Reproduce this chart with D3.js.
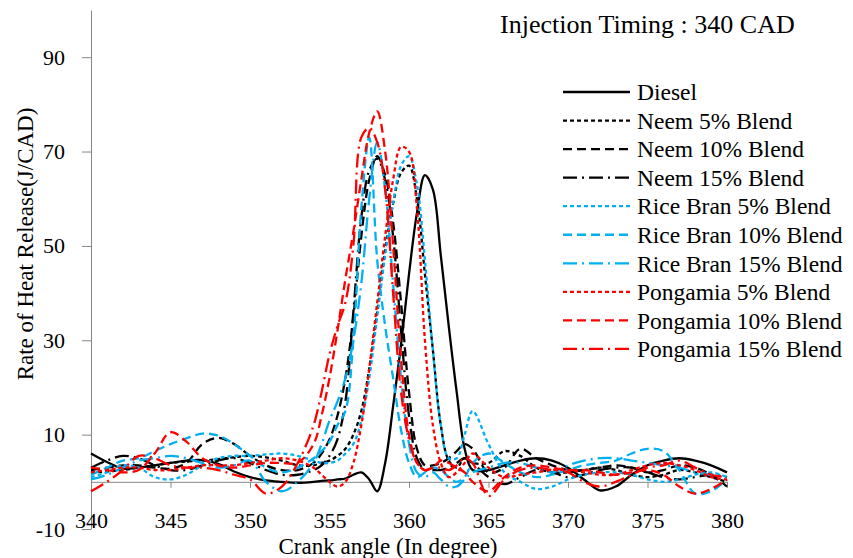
<!DOCTYPE html>
<html><head><meta charset="utf-8">
<script src="https://cdn.jsdelivr.net/npm/d3@7"></script>
<style>body{margin:0;background:#fff} svg{display:block;font-family:"Liberation Serif","Times New Roman",serif}</style>
</head><body><svg id="c" width="853" height="558"></svg>
<script>
// ---- data ----
const angles = [340,341,342,343,344,345,346,347,348,349,350,351,352,353,354,
  354.5,355,355.5,356,356.5,357,357.5,358,358.5,359,359.5,360,360.5,361,361.5,362,362.5,363,363.5,
  364,365,366,367,368,369,370,371,372,373,374,375,376,377,378,379,380];

const diesel = [6,4.2,2.8,3,3.5,4,4.5,4.6,3.8,2.2,1,0.3,0,-0.2,0,
  0.2,0.3,0.5,0.7,1.5,2,0.5,-2,4,16,29,44,57,65,62,48,33,19,7,
  2.5,2.5,3.5,4.5,5,4.5,3,0.5,-1.8,-1,1.5,3.5,4.5,5,4.5,3.5,2];
const neem5 = [2,2.2,2.5,3,3.5,4,4.3,4.5,4.8,5.2,5.5,5.2,4.5,3.5,3.5,
  4,4.5,5.5,7,10,15,24,36,49,59,65.5,67,60,44,28,12,4.5,3,5,
  4,4,6.5,5.5,3,2,2,2.5,3,2.5,1.5,1,1.5,2.5,2,1,0];
const neem10 = [2.5,3,3.5,3.5,3,2.8,4,8,9.3,8,5.5,3.5,2.5,2.5,4,
  6,9,14,22,35,52,64,69,65,55,38,19,7,3.5,3.5,4,5,6.5,8,
  7,2,3,7,5,3.5,2.5,2.5,3,3.5,3,2,2.5,3.5,3,1.5,-1];
const neem15 = [3,4.5,5.5,5,3.5,2.5,2.5,3.5,4.5,5,4,2.5,1.5,1.5,2.5,
  3.5,5.5,9,17,36,56,66,68.5,64,52,32,14,5,2.5,2.5,2.5,3,4,5,
  4,1,-0.5,1,2.5,2,1,1.5,2.5,3,3,2,1,0.5,1,1.5,1];
const rice5 = [1,2,3.5,3,1,0.5,1.5,3.5,5,5.5,5.5,5.8,6,5.5,4.5,
  4,4,4.5,6,8,13,22,35,48,59,67,69,63,47,28,12,5,5,10,
  15,8,2,0,-1.5,-1,0.5,1.5,2,2,1.5,0.5,0,0.5,1.5,2,1];
const rice10 = [1.5,3,4.5,5,6.5,8,9.2,10.2,9.8,8,5.5,3,2,3,5,
  6.5,8.5,12,15,30,58,73,47,33,22,11,4,1,2,3,2.5,1,0,1,
  4,6,4,2,1,1.5,2.5,3.5,4,4.5,6,7,6.5,2.5,-2.5,-2,0.5];
const rice15 = [0.5,1.5,3,4.5,5,5.5,5,4,3,3.5,4.5,0,-2,0,4,
  8,13,17,22,30,42,60,72,62,42,22,8,2,1,2,0.5,-1,-1,0.5,
  2,3,4,4,3,2,3.5,4.5,5,5,4.5,4,3.5,3,2,1.5,1];
const pong5 = [2,2.5,3,3,2.5,2.5,3,3.5,3.5,3.5,4,4.5,5,4.5,3,
  1.5,0,-1,0,4,12,24,38,52,64,71,70,58,30,12,4,1,2,4,
  6,3,1,1.5,2,2.5,2.5,2,1.5,1.5,2.5,3.5,4,3.5,2.5,1,0.5];
const pong10 = [3,2.5,2,2.5,6,10.5,8.5,5,3.5,3,3.5,4,4,4,8,
  14,22,32,43,53,64,74,78.5,70,50,26,10,4,2.5,3,4.5,4,3,2,
  0,-2,1,3,3.5,3,2.5,2.5,2,1.5,2,2.5,1.5,-1,-2.5,-1.5,0.5];
const pong15 = [-2,0,2.5,5.5,5,3.5,3,3,2.5,1.5,0.5,-2.5,-1,4,12,
  19,27,33,38,50,73,75,72,62,40,19,9,4,2.5,3,3,2.5,3.5,5,
  4,-3,0.5,2.5,3,2.5,2,0,-1,0,1.5,3,3.5,4.5,3,1.5,1];

const seriesNames = ["Diesel","Neem 5% Blend","Neem 10% Blend","Neem 15% Blend",
  "Rice Bran 5% Blend","Rice Bran 10% Blend","Rice Bran 15% Blend",
  "Pongamia 5% Blend","Pongamia 10% Blend","Pongamia 15% Blend"];
const seriesValues = [diesel,neem5,neem10,neem15,rice5,rice10,rice15,pong5,pong10,pong15];
const xTicks = [340,345,350,355,360,365,370,375,380];
const yTicks = [-10,10,30,50,70,90];
const titleText = "Injection Timing : 340 CAD";
const xTitle = "Crank angle (In degree)";
const yTitle = "Rate of Heat Release(J/CAD)";

// ---- styles ----
const BLACK="#000000", BLUE="#00B0F0", RED="#FF0000";
const SHORT="4,3", LONG="9,5", DASHDOT="14,5,2,5";
const styles = [
  {c:BLACK,d:null},{c:BLACK,d:SHORT},{c:BLACK,d:LONG},{c:BLACK,d:DASHDOT},
  {c:BLUE,d:SHORT},{c:BLUE,d:LONG},{c:BLUE,d:DASHDOT},
  {c:RED,d:SHORT},{c:RED,d:LONG},{c:RED,d:DASHDOT}];

const svg = d3.select("#c");
const x = d3.scaleLinear().domain([340,380]).range([91,727]);
const y = d3.scaleLinear().domain([-10,100]).range([529,10]);
const AX="#868686";
const FONT="Liberation Serif";

// y axis
const gy = svg.append("g").attr("transform","translate(91,0)")
  .call(d3.axisLeft(y).tickValues(yTicks).tickFormat(d=>String(d)).tickSize(9).tickSizeOuter(0).tickPadding(17));
gy.select(".domain").attr("stroke",AX);
gy.selectAll(".tick line").attr("stroke",AX);
gy.selectAll(".tick text").attr("font-family",FONT).attr("font-size",22).attr("fill","#000");

// x axis at y=0
const gx = svg.append("g").attr("transform",`translate(0,${y(0)})`)
  .call(d3.axisBottom(x).tickValues(xTicks).tickFormat(d=>String(d)).tickSize(6).tickSizeOuter(0));
gx.select(".domain").attr("stroke",AX);
gx.selectAll(".tick line").attr("stroke",AX);
gx.selectAll(".tick text").attr("font-family",FONT).attr("font-size",22)
  .attr("fill","#000").attr("y",31).attr("dy","0.71em");

// lines
const line = d3.line().x((d,i)=>x(angles[i])).y(d=>y(d)).curve(d3.curveCatmullRom.alpha(0.5));
svg.append("g").selectAll("path").data(d3.range(seriesValues.length)).join("path")
  .attr("d",i=>line(seriesValues[i]))
  .attr("fill","none").attr("stroke",i=>styles[i].c).attr("stroke-width",2.3)
  .attr("stroke-dasharray",i=>styles[i].d);

// legend
const lg = svg.append("g");
seriesNames.forEach((n,i)=>{
  const ly = 92 + i*28.55;
  lg.append("line").attr("x1",563).attr("x2",630).attr("y1",ly).attr("y2",ly)
    .attr("stroke",styles[i].c).attr("stroke-width",2.3).attr("stroke-dasharray",styles[i].d);
  lg.append("text").attr("x",637).attr("y",ly).attr("dy","0.35em")
    .attr("font-size",23.5).attr("fill","#000").text(n);
});

// titles
svg.append("text").attr("x",500).attr("y",24).attr("dy","0.35em").attr("font-size",26).text(titleText);
svg.append("text").attr("x",388).attr("y",546).attr("dy","0.35em").attr("text-anchor","middle").attr("font-size",23).text(xTitle);
svg.append("text").attr("transform","translate(25,244) rotate(-90)").attr("dy","0.35em")
  .attr("text-anchor","middle").attr("font-size",23).text(yTitle);
</script></body></html>
